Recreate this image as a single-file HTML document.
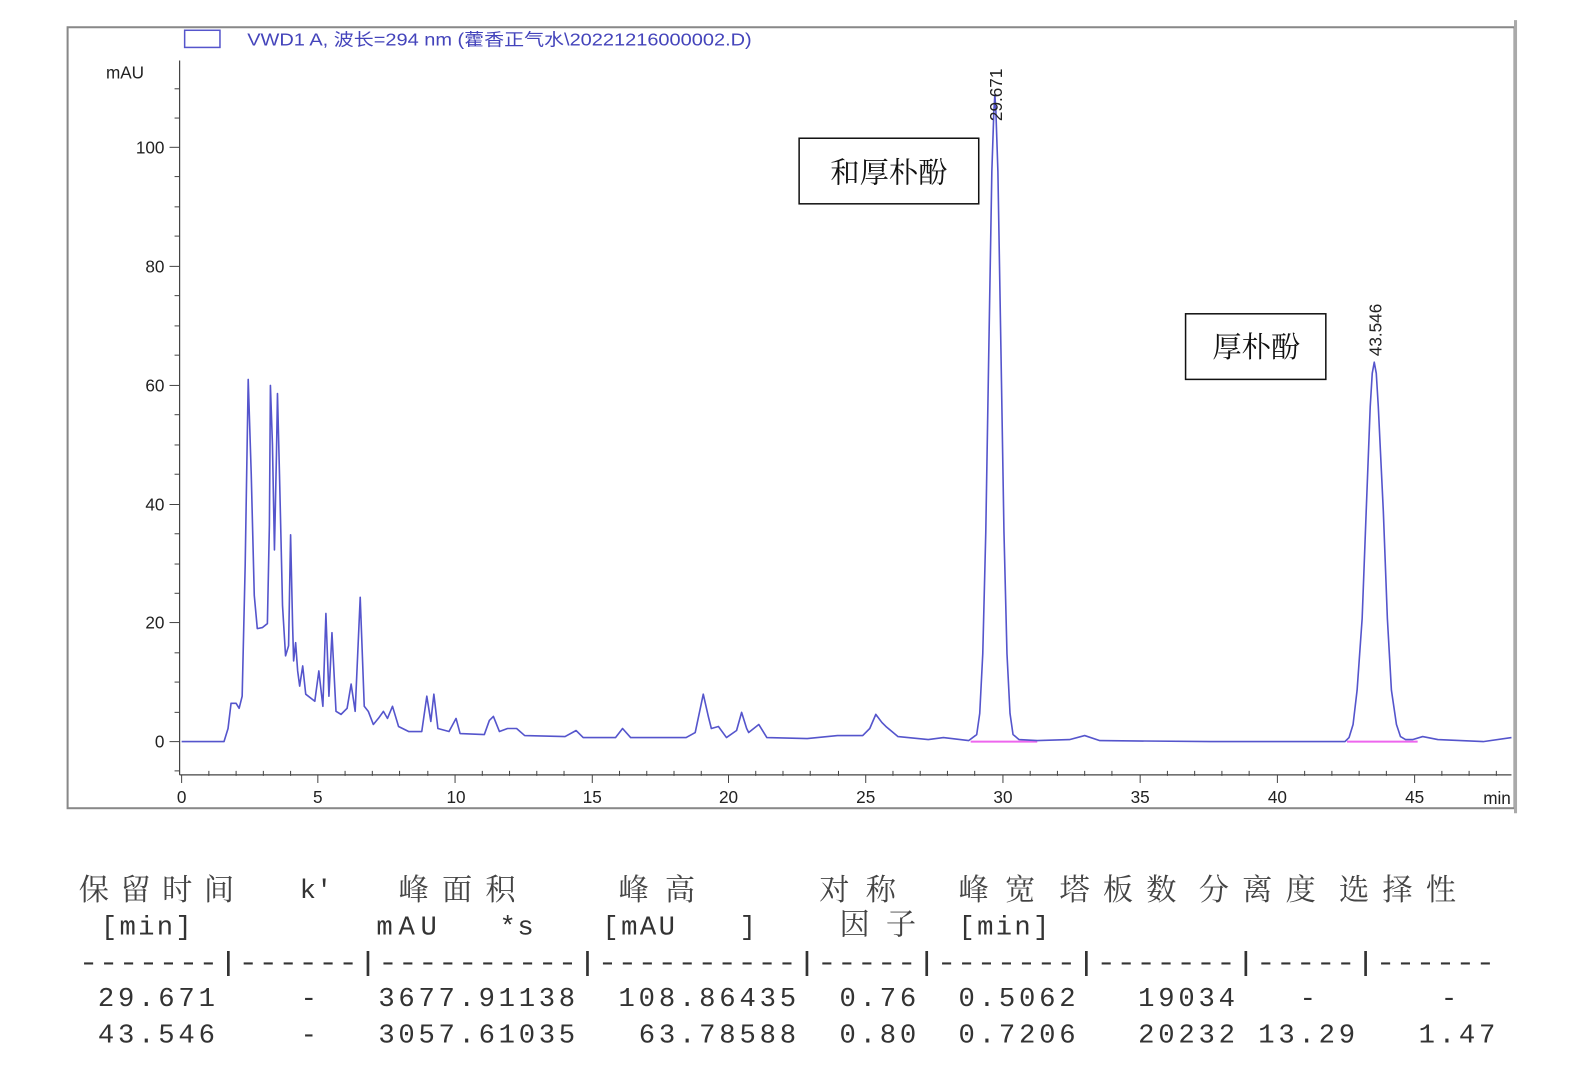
<!DOCTYPE html>
<html><head><meta charset="utf-8"><style>
html,body{margin:0;padding:0;background:#fff;}
svg{display:block;}
.ax{font-family:"Liberation Sans",sans-serif;font-size:17px;fill:#222;}
.mono{font-family:"Liberation Mono",monospace;font-size:27px;fill:#333;}
.cjk{font-family:"Liberation Serif","Noto Serif CJK SC",serif;font-size:30px;fill:#444;}
</style></head><body>
<svg width="1583" height="1067" viewBox="0 0 1583 1067" xmlns="http://www.w3.org/2000/svg">
<g transform="scale(1.009)">
<rect x="67" y="27" width="1434" height="774" fill="#fff" stroke="#888" stroke-width="2"/>
<line x1="1502" y1="20" x2="1502" y2="806" stroke="#aaa" stroke-width="3"/>
<rect x="183" y="30" width="35" height="17" fill="none" stroke="#5555cc" stroke-width="1.5"/>
<text x="245" y="45" textLength="500" lengthAdjust="spacingAndGlyphs" font-family="Liberation Sans,'Noto Sans CJK SC',sans-serif" font-size="17" fill="#4444bb">VWD1 A, 波长=294 nm (藿香正气水\20221216000002.D)</text>
<line x1="178" y1="60" x2="178" y2="768" stroke="#444" stroke-width="1.2"/>
<text x="105" y="78" class="ax" font-size="15">mAU</text>
<g stroke="#444" stroke-width="1">
<line x1="168" y1="735" x2="178" y2="735"/><line x1="168" y1="617" x2="178" y2="617"/><line x1="168" y1="500" x2="178" y2="500"/><line x1="168" y1="382" x2="178" y2="382"/><line x1="168" y1="264" x2="178" y2="264"/><line x1="168" y1="146" x2="178" y2="146"/>
<line x1="173" y1="764" x2="178" y2="764"/><line x1="173" y1="706" x2="178" y2="706"/><line x1="173" y1="676" x2="178" y2="676"/><line x1="173" y1="647" x2="178" y2="647"/><line x1="173" y1="588" x2="178" y2="588"/><line x1="173" y1="559" x2="178" y2="559"/><line x1="173" y1="529" x2="178" y2="529"/><line x1="173" y1="470" x2="178" y2="470"/><line x1="173" y1="441" x2="178" y2="441"/><line x1="173" y1="411" x2="178" y2="411"/><line x1="173" y1="352" x2="178" y2="352"/><line x1="173" y1="323" x2="178" y2="323"/><line x1="173" y1="293" x2="178" y2="293"/><line x1="173" y1="234" x2="178" y2="234"/><line x1="173" y1="205" x2="178" y2="205"/><line x1="173" y1="175" x2="178" y2="175"/><line x1="173" y1="117" x2="178" y2="117"/><line x1="173" y1="88" x2="178" y2="88"/>
</g>
<g class="ax" text-anchor="end">
<text x="163" y="741">0</text><text x="163" y="623">20</text><text x="163" y="506">40</text><text x="163" y="388">60</text><text x="163" y="270">80</text><text x="163" y="152">100</text>
</g>
<line x1="178" y1="768" x2="1498" y2="768" stroke="#444" stroke-width="1.2"/>
<g stroke="#444" stroke-width="1">
<line x1="180" y1="768" x2="180" y2="776"/><line x1="315" y1="768" x2="315" y2="776"/><line x1="451" y1="768" x2="451" y2="776"/><line x1="587" y1="768" x2="587" y2="776"/><line x1="722" y1="768" x2="722" y2="776"/><line x1="858" y1="768" x2="858" y2="776"/><line x1="994" y1="768" x2="994" y2="776"/><line x1="1130" y1="768" x2="1130" y2="776"/><line x1="1266" y1="768" x2="1266" y2="776"/><line x1="1402" y1="768" x2="1402" y2="776"/>
</g>
<path d="M207 764v5M234 764v5M261 764v5M288 764v5M342 764v5M369 764v5M396 764v5M424 764v5M478 764v5M505 764v5M532 764v5M559 764v5M614 764v5M641 764v5M668 764v5M695 764v5M749 764v5M776 764v5M803 764v5M831 764v5M885 764v5M912 764v5M939 764v5M966 764v5M1021 764v5M1048 764v5M1075 764v5M1102 764v5M1157 764v5M1184 764v5M1211 764v5M1238 764v5M1293 764v5M1320 764v5M1347 764v5M1374 764v5M1429 764v5M1456 764v5M1483 764v5" stroke="#444" stroke-width="1"/>
<g class="ax" text-anchor="middle">
<text x="180" y="796">0</text><text x="315" y="796">5</text><text x="452" y="796">10</text><text x="587" y="796">15</text><text x="722" y="796">20</text><text x="858" y="796">25</text><text x="994" y="796">30</text><text x="1130" y="796">35</text><text x="1266" y="796">40</text><text x="1402" y="796">45</text>
</g>
<text x="1470" y="797" class="ax" font-size="14">min</text>
<line x1="962" y1="735" x2="1028" y2="735" stroke="#ee66ee" stroke-width="2"/>
<line x1="1335" y1="735" x2="1405" y2="735" stroke="#ee66ee" stroke-width="2"/>
<polyline fill="none" stroke="#5555cc" stroke-width="1.6" stroke-linejoin="round" points="
180,735 222,735 226,722 229,697 234,697 237,702 240,690 243,560 246,376 249,470 252,590 255,623 260,622 265,618 267,520 268,382 270,440 272,545 274,450 275,390 277,470 280,600 283,650 286,640 288,530 290,620 291,655 293,637 295,665 297,680 300,660 303,688 312,695 316,665 320,700 323,608 326,690 329,627 333,705 338,708 344,702 348,678 352,705 357,592 361,700 365,705 370,718 375,712 380,705 384,712 389,700 395,720 405,725 418,725 423,690 427,715 430,688 434,722 445,725 452,712 456,727 480,728 485,714 489,710 495,725 503,722 512,722 520,729 560,730 571,724 578,731 610,731 617,722 625,731 680,731 689,726 697,688 702,710 705,722 712,720 720,731 730,724 735,706 740,722 742,726 752,718 760,731 800,732 830,729 855,729 862,722 868,708 874,716 878,720 890,730 920,733 935,731 960,734 968,728 971,707 974,648 977,527 980,346 983,170 985,110 986,94 987,110 989,170 992,346 995,527 998,648 1001,707 1004,728 1010,733 1028,734 1060,733 1075,729 1090,734 1200,735 1333,735 1337,731 1341,718 1345,684 1350,613 1354,507 1358,403 1360,370 1362,359 1364,370 1366,403 1371,507 1375,613 1379,684 1384,718 1388,730 1393,733 1400,733 1410,730 1425,733 1470,735 1498,731"/>
<text transform="translate(993,120) rotate(-90)" class="ax" font-size="16">29.671</text>
<text transform="translate(1369,353) rotate(-90)" class="ax" font-size="16">43.546</text>
<rect x="792" y="137" width="178" height="65" fill="#fff" stroke="#111" stroke-width="1.5"/>
<text x="881" y="181" text-anchor="middle" font-family="'Noto Serif CJK SC',serif" font-size="29" fill="#111">和厚朴酚</text>
<rect x="1175" y="311" width="139" height="65" fill="#fff" stroke="#111" stroke-width="1.5"/>
<text x="1245" y="354" text-anchor="middle" font-family="'Noto Serif CJK SC',serif" font-size="29" fill="#111">厚朴酚</text>
<g class="cjk">
<text x="78" y="892" textLength="154">保留时间</text>
<text x="395" y="892" textLength="116">峰面积</text>
<text x="613" y="892" textLength="76">峰高</text>
<text x="812" y="892" textLength="76">对称</text>
<text x="950" y="892" textLength="76">峰宽</text>
<text x="1050" y="892" textLength="116">塔板数</text>
<text x="1188" y="892" textLength="116">分离度</text>
<text x="1327" y="892" textLength="116">选择性</text>
<text x="832" y="926" textLength="76">因子</text>
</g>
<g class="mono">
<text x="297" y="890">k'</text>
<text x="100" y="926" textLength="90">[min]</text>
<text x="373" y="926" textLength="60">mAU</text>
<text x="495" y="926" textLength="34">*s</text>
<text x="597" y="926" textLength="72">[mAU</text>
<text x="733" y="926">]</text>
<text x="950" y="926" textLength="90">[min]</text>
<text x="78" y="962" textLength="1404" lengthAdjust="spacingAndGlyphs">-------|------|----------|----------|-----|-------|-------|-----|------</text>
<text x="97" y="997" textLength="116">29.671</text>
<text x="298" y="997">-</text>
<text x="375" y="997" textLength="195">3677.91138</text>
<text x="613" y="997" textLength="176">108.86435</text>
<text x="832" y="997" textLength="76">0.76</text>
<text x="950" y="997" textLength="116">0.5062</text>
<text x="1128" y="997" textLength="96">19034</text>
<text x="1288" y="997">-</text>
<text x="1428" y="997">-</text>
<text x="97" y="1033" textLength="116">43.546</text>
<text x="298" y="1033">-</text>
<text x="375" y="1033" textLength="195">3057.61035</text>
<text x="633" y="1033" textLength="156">63.78588</text>
<text x="832" y="1033" textLength="76">0.80</text>
<text x="950" y="1033" textLength="116">0.7206</text>
<text x="1128" y="1033" textLength="96">20232</text>
<text x="1247" y="1033" textLength="96">13.29</text>
<text x="1406" y="1033" textLength="76">1.47</text>
</g>
</g>
</svg>
</body></html>
